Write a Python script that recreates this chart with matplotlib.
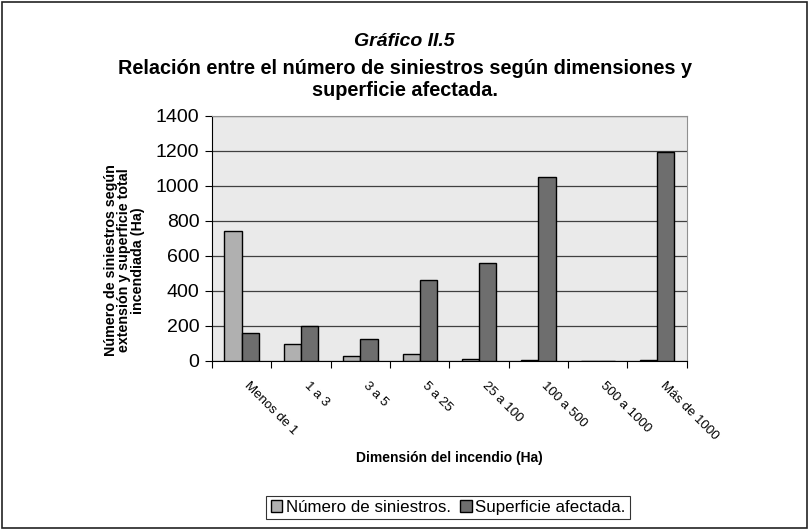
import matplotlib
matplotlib.use("Agg")
import matplotlib.pyplot as plt
import matplotlib.transforms as mtransforms
import numpy as np
from matplotlib.patches import Rectangle

plt.rcParams['font.family'] = ['Liberation Sans', 'DejaVu Sans']

categories = ["Menos de 1", "1 a 3", "3 a 5", "5 a 25", "25 a 100", "100 a 500", "500 a 1000", "Más de 1000"]
num_siniestros = [743, 95, 29, 40, 13, 8, 0, 4]
superficie = [158, 202, 126, 463, 560, 1050, 0, 1192]
series_names = ["Número de siniestros.", "Superficie afectada."]
yticks = [0, 200, 400, 600, 800, 1000, 1200, 1400]

fig = plt.figure(figsize=(8.09, 5.30), dpi=100)
fig.patch.set_facecolor("white")
fig.add_artist(Rectangle((0.003, 0.003), 0.994, 0.994, transform=fig.transFigure,
                         fill=False, edgecolor="#222222", linewidth=1.2))

ax = fig.add_axes([0.262, 0.319, 0.587, 0.4628])
ax.set_facecolor("#eaeaea")
x = np.arange(len(categories)) + 0.5
w = 0.29
ax.bar(x - w/2, num_siniestros, w, color="#b0b0b0", edgecolor="black", linewidth=1.0, label=series_names[0], zorder=3)
ax.bar(x + w/2, superficie, w, color="#6e6e6e", edgecolor="black", linewidth=1.0, label=series_names[1], zorder=3)

ax.set_xlim(0, len(categories))
ax.set_ylim(0, 1400)
ax.set_yticks(yticks)
ax.set_yticklabels([str(v) for v in yticks], fontsize=14)
ax.yaxis.grid(True, color="#404040", linewidth=0.9, zorder=1)
ax.set_axisbelow(True)

ax.set_xticks(np.arange(len(categories) + 1))
ax.set_xticklabels([])
ax.set_xticks(x, minor=True)
ax.set_xticklabels(categories, minor=True, rotation=-45, ha="left", va="top",
                   rotation_mode="anchor", fontsize=9.5)
ax.tick_params(axis="x", which="minor", length=0, pad=15)
ax.tick_params(axis="x", which="major", length=5, direction="out", color="black")
ax.tick_params(axis="y", length=5, direction="out", color="black", pad=4)
shift = mtransforms.ScaledTranslation(9/100, 2/100, fig.dpi_scale_trans)
for lbl in ax.get_xticklabels(minor=True):
    lbl.set_transform(lbl.get_transform() + shift)

for s in ["top", "right"]:
    ax.spines[s].set_color("#909090")
for s in ["left", "bottom"]:
    ax.spines[s].set_color("black")

ax.set_xlabel("Dimensión del incendio (Ha)", fontsize=10, fontweight="bold", labelpad=6)
ax.set_ylabel("Número de siniestros según\nextensión y superficie total\nincendiada (Ha)",
              fontsize=10.3, fontweight="bold", linespacing=0.95, ha="center", va="center")
ax.yaxis.set_label_coords(-0.185, 0.41)

fig.text(0.5, 1 - 41/530, "Gráfico II.5", ha="center", va="center", fontsize=14,
         fontweight="bold", style="italic")
fig.text(0.5, 1 - 79.5/530, "Relación entre el número de siniestros según dimensiones y\nsuperficie afectada.",
         ha="center", va="center", fontsize=14.3, fontweight="bold", linespacing=1.16)

leg = fig.legend(loc="center", bbox_to_anchor=(0.554, 0.042), ncol=2, fontsize=12.2,
                 frameon=True, fancybox=False, edgecolor="black", handlelength=0.7,
                 handleheight=0.7, handletextpad=0.2, columnspacing=0.55, borderpad=0.25,
                 borderaxespad=0)
leg.get_frame().set_linewidth(0.8)

fig.savefig("out.png", dpi=100)
